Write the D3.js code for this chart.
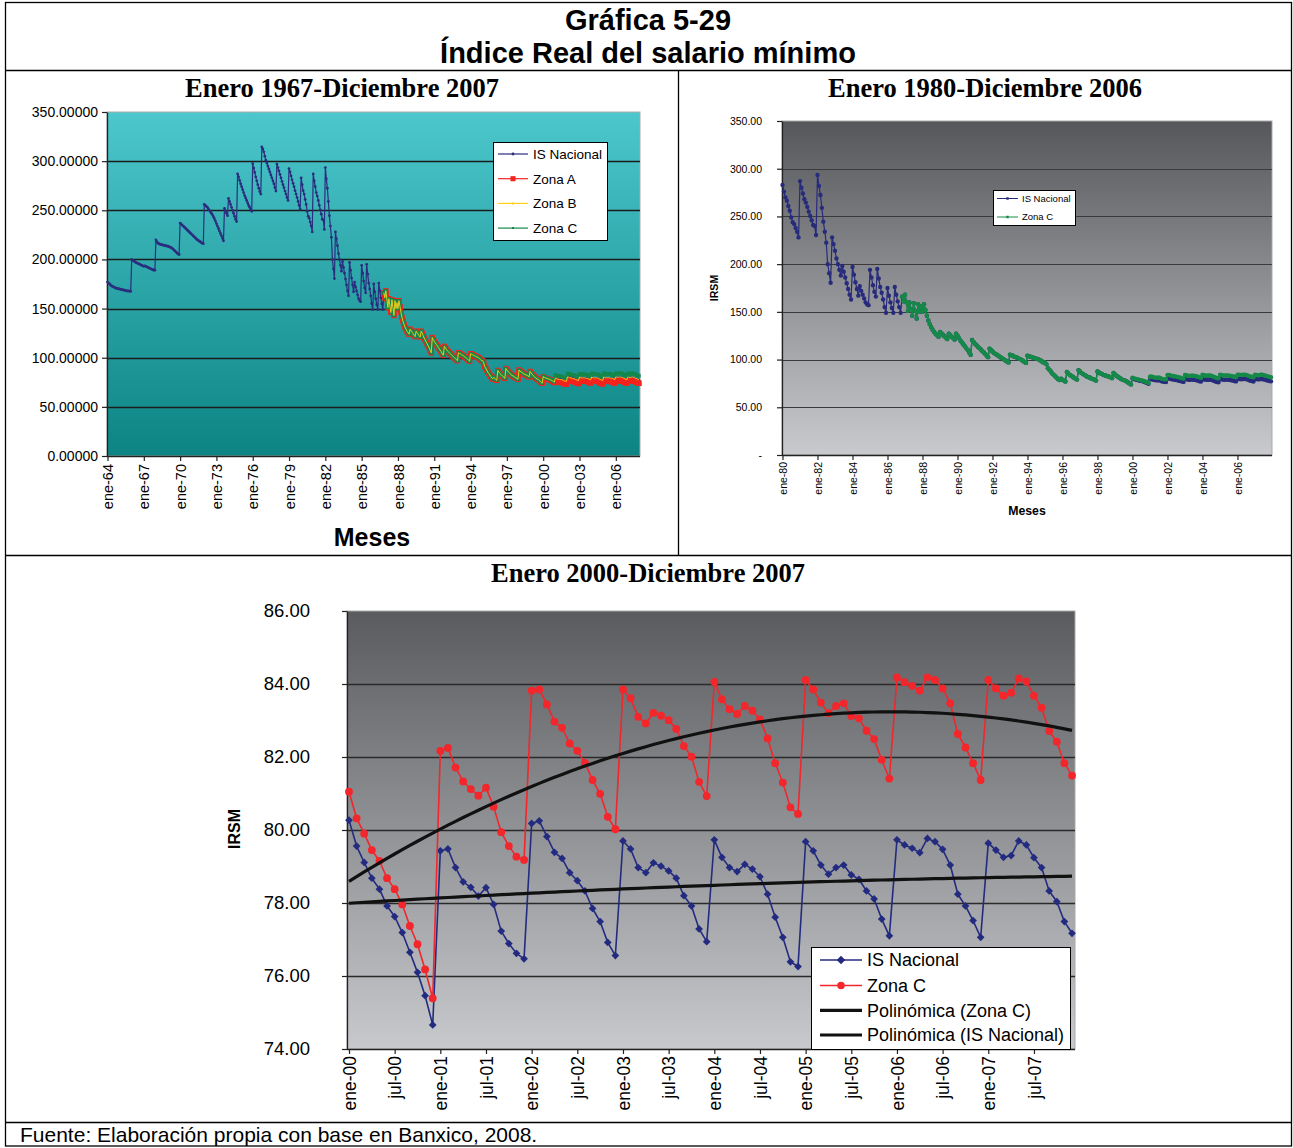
<!DOCTYPE html>
<html>
<head>
<meta charset="utf-8">
<script src="https://cdn.jsdelivr.net/npm/d3@7"></script>
<style>
  body { margin: 0; background: #fff; }
  svg { display: block; }
  text { font-family: "Liberation Sans", Arial, sans-serif; }
  .serif { font-family: "Liberation Serif", "Times New Roman", serif; }
</style>
</head>
<body>
<svg id="fig" width="1293" height="1148"></svg>
<script>
// ---------------------------------------------------------------
// Índice real del salario mínimo, serie mensual (ene-1964 a dic-1999)
// ---------------------------------------------------------------
const isNacional6499 = [
  // 1964
  177, 176, 175, 174, 173, 172.5, 172, 171.5, 171, 170.5, 170.5, 170,
  // 1965
  170, 169.5, 169.5, 169, 169, 168.5, 168.5, 168, 168, 168, 167.5, 167.5,
  // 1966
  200, 199, 198.5, 198, 197, 196.5, 196, 195.5, 195, 194.5, 194, 193.5,
  // 1967
  193, 193.5, 193, 192.5, 192, 191.5, 191, 190.5, 190, 189.5, 189, 189,
  // 1968
  220, 218, 216.5, 216, 215.5, 215, 215, 214.5, 214.5, 214, 214, 213.5,
  // 1969
  213.5, 213, 212.5, 212, 211.5, 210.5, 209.5, 208.5, 207.5, 206.5, 205.5, 205,
  // 1970
  237, 236, 235, 234, 233, 232, 231, 230, 229, 228, 227, 226,
  // 1971
  225, 224, 223, 222, 221, 220, 219.5, 218.5, 218, 217, 216.5, 216,
  // 1972
  256, 255, 254, 253, 251.5, 250, 248.5, 247, 245.5, 243.5, 241.5, 239,
  // 1973
  236.5, 234, 231.5, 229, 226.5, 224, 221.5, 219, 252, 249.5, 247, 244.5,
  // 1974
  262, 259, 256, 253, 250, 247, 244, 241, 238.5, 287, 284, 280.5,
  // 1975
  277, 274, 271, 268, 265, 262.5, 260, 257.5, 255, 253, 251, 249,
  // 1976
  297.5, 293, 288.5, 284, 280, 276, 272.5, 269, 266.5, 314.5, 312.5, 309.5,
  // 1977
  305, 301, 298, 295, 292, 289, 286, 283, 280, 277, 273, 269.5,
  // 1978
  297, 293.5, 290, 286.5, 283, 279.5, 276, 273, 269.5, 266.5, 263, 260,
  // 1979
  292.5, 289, 285, 281, 277.5, 274, 270, 266.5, 263, 259, 255, 251,
  // 1980
  283, 276, 270, 266.5, 261, 256, 249, 244, 242, 238, 234, 228,
  // 1981
  287, 280, 274, 268, 264.5, 260, 255, 250.5, 246, 241, 240, 230.5,
  // 1982
  293.5, 282, 272.5, 259, 244.5, 234, 222.5, 200, 190.5, 180.5, 228, 221,
  // 1983
  214, 206, 200, 194, 188, 198, 192, 186, 180, 174, 168, 163,
  // 1984
  197, 189, 181, 174, 167, 177, 172, 168, 164, 160, 158, 157,
  // 1985
  194, 186, 178, 171, 166, 195, 185, 176, 170, 163, 155, 149,
  // 1986
  175, 167, 160, 154, 149, 176, 168, 161, 155, 149, 166, 161,
  // 1987
  168, 160, 151, 160, 153, 146, 159, 151, 143, 158, 150, 156,
  // 1988
  150, 158, 152, 146, 141, 137, 134, 131, 129, 127, 125.5, 124,
  // 1989
  129, 127.5, 126, 124.5, 123, 121.5, 127, 125.5, 124, 122.5, 121, 127,
  // 1990
  125, 122.5, 120, 118, 116, 114, 112, 110, 107.5, 105, 120.5, 118.5,
  // 1991
  116.5, 115, 113.5, 112, 110.5, 109, 107.5, 106, 104, 102.5, 111.5, 110,
  // 1992
  108.5, 107, 106, 105, 104, 103, 102, 101, 100, 99, 98, 97,
  // 1993
  105, 104.5, 104, 103, 102.5, 102, 101, 100.5, 99.5, 98.5, 97.5, 96.5,
  // 1994
  104, 103.5, 103, 102.5, 102, 101.5, 101, 100.5, 100, 99, 98, 97,
  // 1995
  97, 95, 91, 89.5, 87.5, 85.5, 84, 82.5, 81, 79.5, 78.5, 80,
  // 1996
  79, 78, 77, 87, 85.5, 84, 83, 82, 81, 80, 79, 89,
  // 1997
  87.5, 86, 85, 84, 83, 82, 81.5, 81, 80, 79.5, 79, 78,
  // 1998
  87.5, 86.5, 85.5, 85, 84, 83.5, 83, 82.5, 82, 81.5, 80.5, 86,
  // 1999
  84.5, 83, 82, 81, 80, 79, 78.5, 78, 77, 76, 75, 74
];

// Serie mensual ene-2000 a dic-2007
const isNacional0007 = [
  80.27, 79.56, 79.11, 78.68, 78.38, 77.92, 77.63, 77.19, 76.65, 76.10, 75.46, 74.66,
  79.43, 79.48, 78.97, 78.58, 78.43, 78.19, 78.42, 77.96, 77.23, 76.89, 76.62, 76.47,
  80.18, 80.25, 79.82, 79.39, 79.22, 78.83, 78.61, 78.33, 77.85, 77.49, 76.92, 76.56,
  79.70, 79.48, 78.97, 78.83, 79.10, 79.01, 78.88, 78.68, 78.20, 77.92, 77.29, 76.94,
  79.73, 79.25, 78.97, 78.86, 79.06, 78.93, 78.72, 78.24, 77.61, 77.06, 76.39, 76.26,
  79.68, 79.43, 79.04, 78.79, 78.97, 79.04, 78.77, 78.65, 78.33, 78.11, 77.56, 77.10,
  79.73, 79.59, 79.50, 79.38, 79.77, 79.68, 79.47, 79.04, 78.24, 77.92, 77.52, 77.06,
  79.64, 79.45, 79.25, 79.30, 79.70, 79.59, 79.24, 78.97, 78.33, 78.04, 77.49, 77.17
];
const zonaC0007 = [
  81.05, 80.32, 79.90, 79.45, 79.15, 78.68, 78.38, 77.96, 77.37, 76.87, 76.18, 75.39,
  82.17, 82.25, 81.71, 81.33, 81.12, 80.94, 81.16, 80.64, 79.94, 79.56, 79.27, 79.18,
  83.82, 83.85, 83.44, 82.97, 82.80, 82.37, 82.17, 81.84, 81.37, 80.99, 80.36, 80.02,
  83.85, 83.61, 83.10, 82.92, 83.21, 83.13, 83.01, 82.77, 82.30, 82.01, 81.32, 80.93,
  84.06, 83.58, 83.31, 83.18, 83.40, 83.27, 83.03, 82.51, 81.83, 81.30, 80.62, 80.44,
  84.11, 83.85, 83.49, 83.20, 83.40, 83.47, 83.12, 83.06, 82.72, 82.49, 81.92, 81.41,
  84.18, 84.05, 83.95, 83.82, 84.18, 84.11, 83.88, 83.47, 82.63, 82.26, 81.83, 81.37,
  84.11, 83.88, 83.68, 83.76, 84.15, 84.07, 83.68, 83.35, 82.71, 82.42, 81.83, 81.49
];
const zonaB0007 = [
  80.8, 80.1, 79.6, 79.2, 78.9, 78.4, 78.1, 77.7, 77.1, 76.6, 75.9, 75.1,
  79.0, 79.1, 78.5, 78.1, 77.9, 77.7, 77.9, 77.4, 76.7, 76.3, 76.0, 75.9,
  80.4, 80.4, 80.0, 79.5, 79.4, 78.9, 78.7, 78.4, 77.9, 77.5, 76.9, 76.6,
  80.3, 80.1, 79.6, 79.4, 79.7, 79.6, 79.5, 79.2, 78.8, 78.5, 77.8, 77.4,
  80.4, 79.9, 79.7, 79.5, 79.7, 79.6, 79.4, 78.9, 78.2, 77.7, 77.0, 76.8,
  80.4, 80.1, 79.8, 79.5, 79.7, 79.8, 79.4, 79.4, 79.0, 78.8, 78.2, 77.7,
  80.4, 80.3, 80.2, 80.1, 80.4, 80.3, 80.1, 79.7, 78.9, 78.5, 78.1, 77.6,
  80.3, 80.1, 79.9, 80.0, 80.4, 80.3, 79.9, 79.6, 78.9, 78.6, 78.0, 77.7
];
const zonaA0007 = [
  80.5, 79.7, 79.3, 78.9, 78.6, 78.1, 77.8, 77.4, 76.8, 76.3, 75.6, 74.8,
  76.2, 76.3, 75.7, 75.3, 75.1, 74.9, 75.2, 74.6, 73.9, 73.6, 73.3, 73.2,
  77.5, 77.5, 77.1, 76.6, 76.5, 76.1, 75.9, 75.5, 75.1, 74.7, 74.1, 73.7,
  77.2, 77.0, 76.5, 76.3, 76.6, 76.5, 76.4, 76.2, 75.7, 75.4, 74.7, 74.3,
  77.1, 76.6, 76.3, 76.2, 76.4, 76.3, 76.0, 75.5, 74.8, 74.3, 73.6, 73.4,
  76.9, 76.6, 76.3, 76.0, 76.2, 76.3, 75.9, 75.9, 75.5, 75.3, 74.7, 74.2,
  76.8, 76.7, 76.6, 76.5, 76.8, 76.7, 76.5, 76.1, 75.3, 74.9, 74.5, 74.0,
  76.6, 76.4, 76.2, 76.3, 76.7, 76.6, 76.2, 75.9, 75.2, 74.9, 74.3, 74.0
];

// Las tres zonas coinciden con el índice nacional desde nov-1986 hasta 1999
const inicioZonas = 274;      // nov-1986, contado desde ene-1964
const inicio1980 = 192;       // ene-1980, contado desde ene-1964

// Etiquetas de los ejes
const etiquetas6407 = ["ene-64","ene-67","ene-70","ene-73","ene-76","ene-79","ene-82","ene-85",
                       "ene-88","ene-91","ene-94","ene-97","ene-00","ene-03","ene-06"];
const etiquetas8007 = ["ene-80","ene-82","ene-84","ene-86","ene-88","ene-90","ene-92","ene-94",
                       "ene-96","ene-98","ene-00","ene-02","ene-04","ene-06"];
const etiquetas0007 = ["ene-00","jul-00","ene-01","jul-01","ene-02","jul-02","ene-03","jul-03",
                       "ene-04","jul-04","ene-05","jul-05","ene-06","jul-06","ene-07","jul-07"];
const ticksIndice = [0, 50, 100, 150, 200, 250, 300, 350];
const ticksIRSM = [74, 76, 78, 80, 82, 84, 86];

// Series completas
const isNacional = isNacional6499.concat(isNacional0007);
const comunZonas = isNacional6499.slice(inicioZonas);
const zonaA = comunZonas.concat(zonaA0007);
const zonaB = comunZonas.concat(zonaB0007);
const zonaC = comunZonas.concat(zonaC0007);

// ---------------------------------------------------------------
const svg = d3.select("#fig");
const defs = svg.append("defs");

function gradiente(id, arriba, abajo) {
  const g = defs.append("linearGradient").attr("id", id)
    .attr("x1", 0).attr("y1", 0).attr("x2", 0).attr("y2", 1);
  g.append("stop").attr("offset", "0%").attr("stop-color", arriba);
  g.append("stop").attr("offset", "100%").attr("stop-color", abajo);
}
gradiente("fondoTeal", "#4cc7cc", "#0c8484");
gradiente("fondoGris", "#56575b", "#c9cacd");
gradiente("fondoGris2", "#5a5b5f", "#c8c9cc");

// Marco general del cuadro
const marco = svg.append("g").attr("fill", "none").attr("stroke", "#000").attr("stroke-width", 1.3);
marco.append("rect").attr("x", 5.5).attr("y", 2.5).attr("width", 1286).attr("height", 1143.5);
marco.append("line").attr("x1", 5).attr("x2", 1292).attr("y1", 70.5).attr("y2", 70.5);
marco.append("line").attr("x1", 678.5).attr("x2", 678.5).attr("y1", 70).attr("y2", 555.5);
marco.append("line").attr("x1", 5).attr("x2", 1292).attr("y1", 555.5).attr("y2", 555.5);
marco.append("line").attr("x1", 5).attr("x2", 1292).attr("y1", 1122.5).attr("y2", 1122.5);

svg.append("text").attr("x", 648).attr("y", 30).attr("text-anchor", "middle")
  .attr("font-size", 29).attr("font-weight", "bold").text("Gráfica 5-29");
svg.append("text").attr("x", 648).attr("y", 63).attr("text-anchor", "middle")
  .attr("font-size", 29).attr("font-weight", "bold").text("Índice Real del salario mínimo");
svg.append("text").attr("x", 20).attr("y", 1142).attr("font-size", 21)
  .text("Fuente: Elaboración propia con base en Banxico, 2008.");

// ---------------------------------------------------------------
function panel(o) {
  const x = d3.scaleLinear().domain([0, o.n - 1]).range([o.xIni, o.xFin]);
  const y = d3.scaleLinear().domain([o.yMin, o.yMax]).range([o.abajo, o.arriba]);
  const g = svg.append("g");
  g.append("rect").attr("x", o.izq).attr("y", o.arriba)
    .attr("width", o.der - o.izq).attr("height", o.abajo - o.arriba)
    .attr("fill", `url(#${o.fondo})`).attr("stroke", "#a9a9a9").attr("stroke-width", 1);
  // líneas de división
  g.append("g").selectAll("line")
    .data(o.yTicks.filter(v => v > o.yMin && v < o.yMax)).join("line")
    .attr("x1", o.izq).attr("x2", o.der)
    .attr("y1", d => Math.round(y(d)) + 0.5).attr("y2", d => Math.round(y(d)) + 0.5)
    .attr("stroke", o.rejilla).attr("stroke-width", o.anchoRejilla);
  // eje vertical
  const ejeY = g.append("g").attr("transform", `translate(${o.izq},0)`)
    .call(d3.axisLeft(y).tickValues(o.yTicks).tickFormat(o.yFmt).tickSize(5).tickSizeOuter(0));
  ejeY.select(".domain").attr("stroke", "#222").attr("stroke-width", 1.3);
  ejeY.selectAll(".tick line").attr("stroke", "#222").attr("stroke-width", 1.2);
  ejeY.selectAll("text").attr("font-size", o.fuenteY).attr("fill", "#000")
    .attr("font-family", '"Liberation Sans", Arial, sans-serif').attr("x", -o.sepY);
  // eje horizontal
  const ejeX = g.append("g").attr("transform", `translate(0,${o.abajo})`)
    .call(d3.axisBottom(x).tickValues(o.xEtiquetas.map((_, i) => i * o.paso))
      .tickFormat((d, i) => o.xEtiquetas[i]).tickSize(5).tickSizeOuter(0));
  ejeX.select(".domain").attr("d", `M${o.izq},0.5H${o.der}`).attr("stroke", "#222").attr("stroke-width", 1.3);
  ejeX.selectAll(".tick line").attr("stroke", "#222").attr("stroke-width", 1.2);
  ejeX.selectAll("text").attr("font-size", o.fuenteX).attr("fill", "#000")
    .attr("font-family", '"Liberation Sans", Arial, sans-serif')
    .attr("transform", "rotate(-90)").attr("text-anchor", "end")
    .attr("x", -o.sepX).attr("y", 0).attr("dy", "0.35em");
  return { x, y, g };
}

function serie(p, valores, desde, st) {
  const pts = valores.map((v, i) => [p.x(i + desde), p.y(v)]);
  p.g.append("path").attr("d", d3.line()(pts)).attr("fill", "none")
    .attr("stroke", st.color).attr("stroke-width", st.ancho).attr("stroke-linejoin", "round");
  if (st.marca) {
    const sym = d3.symbol().type(st.marca).size(st.tam);
    p.g.append("g").selectAll("path").data(pts).join("path")
      .attr("transform", d => `translate(${d[0]},${d[1]}) rotate(${st.giro || 0})`)
      .attr("d", sym).attr("fill", st.color);
  }
}

function leyenda(caja, items, o) {
  const g = svg.append("g");
  g.append("rect").attr("x", caja[0] + 0.5).attr("y", caja[1] + 0.5).attr("width", caja[2]).attr("height", caja[3])
    .attr("fill", "#fff").attr("stroke", "#000").attr("stroke-width", 1);
  items.forEach((it, i) => {
    const yy = o.y0 + i * o.dy[i];
    g.append("line").attr("x1", o.l1).attr("x2", o.l2).attr("y1", yy).attr("y2", yy)
      .attr("stroke", it.color).attr("stroke-width", it.ancho);
    if (it.marca) {
      g.append("path").attr("d", d3.symbol().type(it.marca).size(it.tam)())
        .attr("transform", `translate(${(o.l1 + o.l2) / 2},${yy}) rotate(${it.giro || 0})`)
        .attr("fill", it.color);
    }
    g.append("text").attr("x", o.tx).attr("y", yy).attr("dy", "0.36em")
      .attr("font-size", o.fuente).text(it.nombre);
  });
}

// ---------------- Panel 1: ene-1964 a dic-2007 ----------------
svg.append("text").attr("class", "serif").attr("x", 342).attr("y", 97).attr("text-anchor", "middle")
  .attr("font-size", 26.5).attr("font-weight", "bold").text("Enero 1967-Diciembre 2007");
const p1 = panel({
  n: isNacional.length, xIni: 107.5, xFin: 639, izq: 107, der: 640, arriba: 112, abajo: 456,
  yMin: 0, yMax: 350, yTicks: ticksIndice, yFmt: d3.format(".5f"), fondo: "fondoTeal",
  rejilla: "#1c1c1c", anchoRejilla: 1.5, fuenteY: 14, sepY: 9,
  xEtiquetas: etiquetas6407, paso: 36, fuenteX: 14.5, sepX: 8
});
serie(p1, isNacional, 0, { color: "#2b2d7e", ancho: 1.2, marca: d3.symbolCircle, tam: 6 });
serie(p1, zonaA, inicioZonas, { color: "#f2231e", ancho: 5, marca: d3.symbolSquare, tam: 30 });
serie(p1, zonaC, inicioZonas, { color: "#15884a", ancho: 3, marca: d3.symbolSquare, tam: 12 });
serie(p1, zonaB, inicioZonas, { color: "#ffd21a", ancho: 0.9 });
svg.append("text").attr("x", 372).attr("y", 546).attr("text-anchor", "middle")
  .attr("font-size", 25).attr("font-weight", "bold").text("Meses");
leyenda([493, 142, 114, 98], [
  { nombre: "IS Nacional", color: "#2b2d7e", ancho: 1.2, marca: d3.symbolCircle, tam: 6 },
  { nombre: "Zona A", color: "#f2231e", ancho: 1.2, marca: d3.symbolSquare, tam: 26 },
  { nombre: "Zona B", color: "#ffd21a", ancho: 1.2, marca: d3.symbolSquare, tam: 4 },
  { nombre: "Zona C", color: "#15884a", ancho: 1.2, marca: d3.symbolSquare, tam: 4 }
], { y0: 154, dy: [24.7, 24.7, 24.7, 24.7], l1: 498, l2: 528, tx: 533, fuente: 13.5 });

// ---------------- Panel 2: ene-1980 a dic-2007 ----------------
svg.append("text").attr("class", "serif").attr("x", 985).attr("y", 97).attr("text-anchor", "middle")
  .attr("font-size", 26.5).attr("font-weight", "bold").text("Enero 1980-Diciembre 2006");
const isNacional8007 = isNacional.slice(inicio1980);
const p2 = panel({
  n: isNacional8007.length, xIni: 782.5, xFin: 1271, izq: 782, der: 1272, arriba: 121, abajo: 455,
  yMin: 0, yMax: 350, yTicks: ticksIndice, yFmt: d => d === 0 ? "-" : d3.format(".2f")(d), fondo: "fondoGris",
  rejilla: "#3a3a3a", anchoRejilla: 1.2, fuenteY: 10.5, sepY: 20,
  xEtiquetas: etiquetas8007, paso: 24, fuenteX: 10.5, sepX: 7
});
serie(p2, isNacional8007, 0, { color: "#272b7c", ancho: 1.2, marca: d3.symbolCircle, tam: 15 });
serie(p2, zonaC, inicioZonas - inicio1980, { color: "#158a48", ancho: 1.5, marca: d3.symbolCircle, tam: 15 });
svg.append("text").attr("x", 1027).attr("y", 515).attr("text-anchor", "middle")
  .attr("font-size", 12.3).attr("font-weight", "bold").text("Meses");
svg.append("text").attr("transform", "translate(718,288) rotate(-90)").attr("text-anchor", "middle")
  .attr("font-size", 10.5).attr("font-weight", "bold").text("IRSM");
leyenda([993, 190, 82, 35], [
  { nombre: "IS Nacional", color: "#272b7c", ancho: 1, marca: d3.symbolSquare, tam: 6 },
  { nombre: "Zona C", color: "#158a48", ancho: 1, marca: d3.symbolSquare, tam: 6 }
], { y0: 198.5, dy: [18.5, 18.5], l1: 997, l2: 1018, tx: 1022, fuente: 9.5 });

// ---------------- Panel 3: ene-2000 a dic-2007 ----------------
svg.append("text").attr("class", "serif").attr("x", 648).attr("y", 582).attr("text-anchor", "middle")
  .attr("font-size", 26.5).attr("font-weight", "bold").text("Enero 2000-Diciembre 2007");
const p3 = panel({
  n: isNacional0007.length, xIni: 349, xFin: 1072, izq: 347, der: 1075, arriba: 611, abajo: 1049,
  yMin: 74, yMax: 86, yTicks: ticksIRSM, yFmt: d3.format(".2f"), fondo: "fondoGris2",
  rejilla: "#2a2a2a", anchoRejilla: 1.6, fuenteY: 18.5, sepY: 37,
  xEtiquetas: etiquetas0007, paso: 6, fuenteX: 17.5, sepX: 7
});
svg.append("text").attr("transform", "translate(240,829) rotate(-90)").attr("text-anchor", "middle")
  .attr("font-size", 16).attr("font-weight", "bold").text("IRSM");

// Tendencias polinómicas (orden 2, mínimos cuadrados sobre x = 1..n)
function ajustePolinomico(ys, grado) {
  const n = grado + 1;
  const A = Array.from({ length: n }, () => Array(n + 1).fill(0));
  ys.forEach((yv, i) => {
    const xv = i + 1;
    for (let r = 0; r < n; r++) {
      for (let c = 0; c < n; c++) A[r][c] += Math.pow(xv, r + c);
      A[r][n] += yv * Math.pow(xv, r);
    }
  });
  for (let c = 0; c < n; c++) {
    let p = c;
    for (let r = c + 1; r < n; r++) if (Math.abs(A[r][c]) > Math.abs(A[p][c])) p = r;
    [A[c], A[p]] = [A[p], A[c]];
    for (let r = 0; r < n; r++) {
      if (r === c) continue;
      const f = A[r][c] / A[c][c];
      for (let k = c; k <= n; k++) A[r][k] -= f * A[c][k];
    }
  }
  const coef = A.map((row, i) => row[n] / row[i]);
  return ys.map((_, i) => coef.reduce((s, cf, k) => s + cf * Math.pow(i + 1, k), 0));
}

serie(p3, isNacional0007, 0, { color: "#232b80", ancho: 1.6, marca: d3.symbolSquare, tam: 30, giro: 45 });
serie(p3, zonaC0007, 0, { color: "#f2262b", ancho: 1.6, marca: d3.symbolCircle, tam: 48 });
const tendC = ajustePolinomico(zonaC0007, 2);
const tendN = ajustePolinomico(isNacional0007, 2);
[tendC, tendN].forEach(t => {
  p3.g.append("path").attr("d", d3.line()(t.map((v, i) => [p3.x(i), p3.y(v)])))
    .attr("fill", "none").attr("stroke", "#111").attr("stroke-width", 3.2);
});
leyenda([811, 947, 259, 102], [
  { nombre: "IS Nacional", color: "#232b80", ancho: 1.5, marca: d3.symbolSquare, tam: 36, giro: 45 },
  { nombre: "Zona C", color: "#f2262b", ancho: 1.5, marca: d3.symbolCircle, tam: 44 },
  { nombre: "Polinómica (Zona C)", color: "#111", ancho: 3.2 },
  { nombre: "Polinómica (IS Nacional)", color: "#111", ancho: 3.2 }
], { y0: 960, dy: [24, 25.5, 25.2, 25], l1: 820, l2: 862, tx: 867, fuente: 18 });
</script>
</body>
</html>
